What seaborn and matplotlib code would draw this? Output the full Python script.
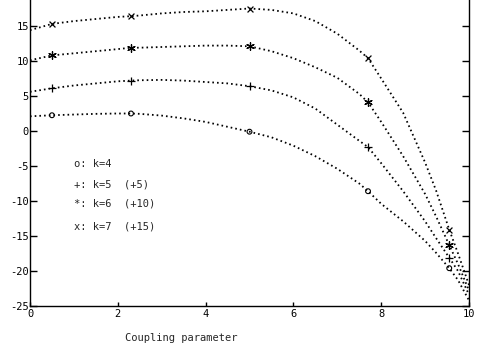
import matplotlib
matplotlib.use("Agg")
import matplotlib.pyplot as plt
import seaborn as sns
import numpy as np
import pandas as pd

# x positions where values were read
x_vals = [0, 0.5, 1, 1.5, 2, 2.3, 2.5, 3, 3.5, 4, 4.5, 5, 5.5, 6, 6.5, 7, 7.5, 7.7,
          8, 8.5, 9, 9.25, 9.55, 9.75, 10]
k4 = [2.1, 2.25, 2.35, 2.45, 2.5, 2.5, 2.45, 2.2, 1.8, 1.3, 0.6, -0.1, -0.9, -2.1, -3.6,
      -5.4, -7.5, -8.6, -10.4, -12.9, -15.7, -17.4, -19.6, -21.3, -24.2]
k5 = [5.6, 6.1, 6.5, 6.8, 7.1, 7.2, 7.25, 7.3, 7.2, 7.0, 6.8, 6.4, 5.8, 4.8, 3.2,
      0.9, -1.4, -2.3, -4.6, -8.6, -12.9, -15.3, -18.1, -20.0, -23.4]
k6 = [10.1, 10.8, 11.1, 11.4, 11.7, 11.9, 11.9, 12.0, 12.1, 12.2, 12.2, 12.1, 11.4, 10.4, 9.1,
      7.6, 5.3, 4.1, 1.3, -3.6, -9.0, -12.2, -16.3, -19.0, -22.8]
k7 = [14.4, 15.3, 15.7, 16.0, 16.3, 16.4, 16.5, 16.8, 17.0, 17.1, 17.3, 17.5, 17.3, 16.8, 15.7,
      13.9, 11.5, 10.4, 7.5, 2.6, -4.5, -8.5, -14.1, -17.5, -22.0]
marker_x = [0.5, 2.3, 5.0, 7.7, 9.55]

series_names = ["o: k=4", "+: k=5  (+5)", "*: k=6  (+10)", "x: k=7  (+15)"]
series_vals = [k4, k5, k6, k7]
x_ticks = [0, 2, 4, 6, 8, 10]
y_ticks = [-25, -20, -15, -10, -5, 0, 5, 10, 15]
x_label = "Coupling parameter"

sns.set_style("white")
plt.rcParams["font.family"] = ["DejaVu Sans Mono", "DejaVu Sans"]

fig = plt.figure(figsize=(4.9, 3.53), dpi=100)
ax_bottom = 47 / 353
ax_height = 315 / 353
ax = fig.add_axes([30 / 490, ax_bottom, 439 / 490, ax_height])

marker_styles = [
    dict(marker="o", s=12, facecolors="none", edgecolors="k", linewidths=0.8),
    dict(marker="+", s=26, color="k", linewidths=0.9),
    dict(marker=(6, 2, 0), s=30, color="k", linewidths=0.9),
    dict(marker="x", s=18, color="k", linewidths=0.9),
]

for name, vals, mst in zip(series_names, series_vals, marker_styles):
    df = pd.DataFrame({"x": x_vals, "y": vals})
    sns.lineplot(data=df, x="x", y="y", ax=ax, color="k", lw=1.3,
                 linestyle=(0, (0.9, 1.7)), legend=False)
    mdf = df[df["x"].isin(marker_x)]
    sns.scatterplot(data=mdf, x="x", y="y", ax=ax, legend=False, zorder=3, **mst)

# text legend
legend_y = [-4.7, -7.6, -10.3, -13.7]
for name, ly in zip(series_names, legend_y):
    ax.text(1.0, ly, name, fontsize=7.5, va="center", ha="left")

ax.set_xlim(0, 10)
ax.set_ylim(-25, 20)
ax.set_xticks(x_ticks)
ax.set_yticks(y_ticks)
ax.set_xticklabels([str(t) for t in x_ticks])
ax.set_yticklabels([str(t) for t in y_ticks])
ax.tick_params(axis="both", direction="in", colors="k", labelsize=7.5)
ax.tick_params(axis="y", length=5, width=1, pad=0.8, left=True, right=True)
ax.tick_params(axis="x", length=3, width=1, pad=2.5, bottom=True, top=True)

for side in ["left", "right", "top", "bottom"]:
    ax.spines[side].set_visible(True)
    ax.spines[side].set_color("k")
    ax.spines[side].set_linewidth(1.0)

ax.set_xlabel(x_label, fontsize=7.5)
ax.set_ylabel("")
ax.xaxis.set_label_coords(0.344, -0.086)

fig.savefig("out.png", dpi=100)
